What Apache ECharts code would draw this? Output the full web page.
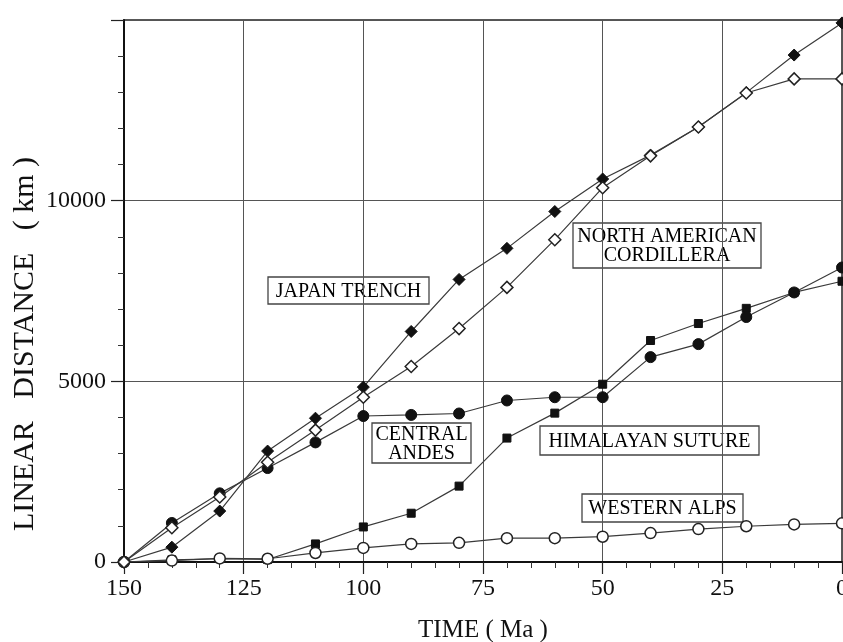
<!DOCTYPE html>
<html>
<head>
<meta charset="utf-8">
<script src="https://cdn.jsdelivr.net/npm/echarts@6/dist/echarts.min.js"></script>
<style>
  html, body { margin: 0; padding: 0; background: #fff; }
  #main { width: 843px; height: 642px; }
</style>
</head>
<body>
<div id="main"></div>
<script>
// time before present (Ma)
var ages = [150, 140, 130, 120, 110, 100, 90, 80, 70, 60, 50, 40, 30, 20, 10, 0];
// linear distance (km)
var japanTrench   = [0, 410, 1410, 3070, 3980, 4840, 6380, 7820, 8680, 9700, 10600, 11260, 12040, 12990, 14030, 14920];
var northAmerican = [0, 950, 1800, 2760, 3650, 4560, 5410, 6460, 7600, 8920, 10360, 11240, 12040, 12980, 13370, 13370];
var centralAndes  = [0, 1080, 1900, 2600, 3310, 4040, 4070, 4110, 4470, 4560, 4560, 5670, 6030, 6780, 7460, 8150];
var himalayan     = [0, 60, 90, 70, 500, 970, 1350, 2100, 3430, 4120, 4920, 6130, 6600, 7020, 7460, 7770];
var westernAlps   = [0, 40, 100, 90, 250, 390, 500, 530, 660, 660, 700, 800, 910, 990, 1040, 1070];

var serif = '"Liberation Serif", "Times New Roman", serif';

function pairs(vals) {
    var out = [];
    for (var i = 0; i < ages.length; i++) {
        out.push([ages[i], vals[i]]);
    }
    return out;
}

function line(name, vals, symbol, size, filled) {
    return {
        name: name,
        type: 'line',
        data: pairs(vals),
        symbol: symbol,
        symbolSize: size,
        showAllSymbol: true,
        lineStyle: { color: '#3a3a3a', width: 1.2 },
        itemStyle: filled
            ? { color: '#111', borderColor: '#111', borderWidth: 1 }
            : { color: '#fff', borderColor: '#222', borderWidth: 1.5 },
        emphasis: { disabled: true },
        z: filled ? 3 : 4
    };
}

// boxed label: white rect with a thin border and centred text
function box(text, x, y, w, h) {
    return {
        type: 'group',
        x: x, y: y,
        z: 100,
        children: [
            {
                type: 'rect',
                shape: { x: 0, y: 0, width: w, height: h },
                style: { fill: '#fff', stroke: '#444', lineWidth: 1.3 }
            },
            {
                type: 'text',
                x: w / 2, y: h / 2 + 1,
                style: {
                    text: text,
                    font: '20px ' + serif,
                    fill: '#000',
                    align: 'center',
                    verticalAlign: 'middle',
                    lineHeight: 19
                }
            }
        ]
    };
}

var chart = echarts.init(document.getElementById('main'));

var option = {
    backgroundColor: '#fff',
    animation: false,
    grid: {
        left: 124, right: 1, top: 20, bottom: 80,
        outerBoundsMode: 'none',
        show: true, borderColor: '#222', borderWidth: 1.5
    },
    xAxis: {
        type: 'value',
        inverse: true,
        min: 0, max: 150, interval: 25,
        name: 'TIME ( Ma )',
        nameLocation: 'middle',
        nameGap: 56,
        nameTextStyle: { fontFamily: serif, fontSize: 25, color: '#111' },
        axisLine: { onZero: false, lineStyle: { color: '#111', width: 2 } },
        axisTick: { show: true, length: 12, lineStyle: { color: '#222', width: 1.2 } },
        minorTick: { show: true, splitNumber: 5, length: 6, lineStyle: { color: '#333' } },
        axisLabel: { fontFamily: serif, fontSize: 24, color: '#111', margin: 15 },
        splitLine: { show: true, lineStyle: { color: '#555', width: 1 } }
    },
    yAxis: {
        type: 'value',
        min: 0, max: 15000, interval: 5000,
        axisLine: { show: true, onZero: false, lineStyle: { color: '#111', width: 2 } },
        axisTick: { show: true, length: 13, lineStyle: { color: '#222', width: 1.2 } },
        minorTick: { show: true, splitNumber: 5, length: 6, lineStyle: { color: '#333' } },
        axisLabel: {
            fontFamily: serif, fontSize: 24, color: '#111', margin: 18, showMaxLabel: false,
            formatter: function (v) { return String(v); }
        },
        splitLine: { show: true, lineStyle: { color: '#555', width: 1 } }
    },
    graphic: [
        {
            type: 'text',
            x: 25, y: 344,
            rotation: Math.PI / 2,
            style: {
                text: 'LINEAR   DISTANCE   ( km )',
                font: '30px ' + serif,
                fill: '#111',
                align: 'center',
                verticalAlign: 'middle'
            }
        },
        box('JAPAN TRENCH', 268, 277, 161, 27),
        box('NORTH AMERICAN\nCORDILLERA', 573, 223, 188, 45),
        box('CENTRAL\nANDES', 372, 423, 99, 40),
        box('HIMALAYAN SUTURE', 540, 426, 219, 29),
        box('WESTERN ALPS', 582, 494, 161, 28)
    ],
    series: [
        line('Western Alps', westernAlps, 'circle', 11, false),
        line('Himalayan Suture', himalayan, 'rect', 8, true),
        line('Central Andes', centralAndes, 'circle', 11, true),
        line('North American Cordillera', northAmerican, 'diamond', 12, false),
        line('Japan Trench', japanTrench, 'diamond', 12, true)
    ]
};

chart.setOption(option);
</script>
</body>
</html>
